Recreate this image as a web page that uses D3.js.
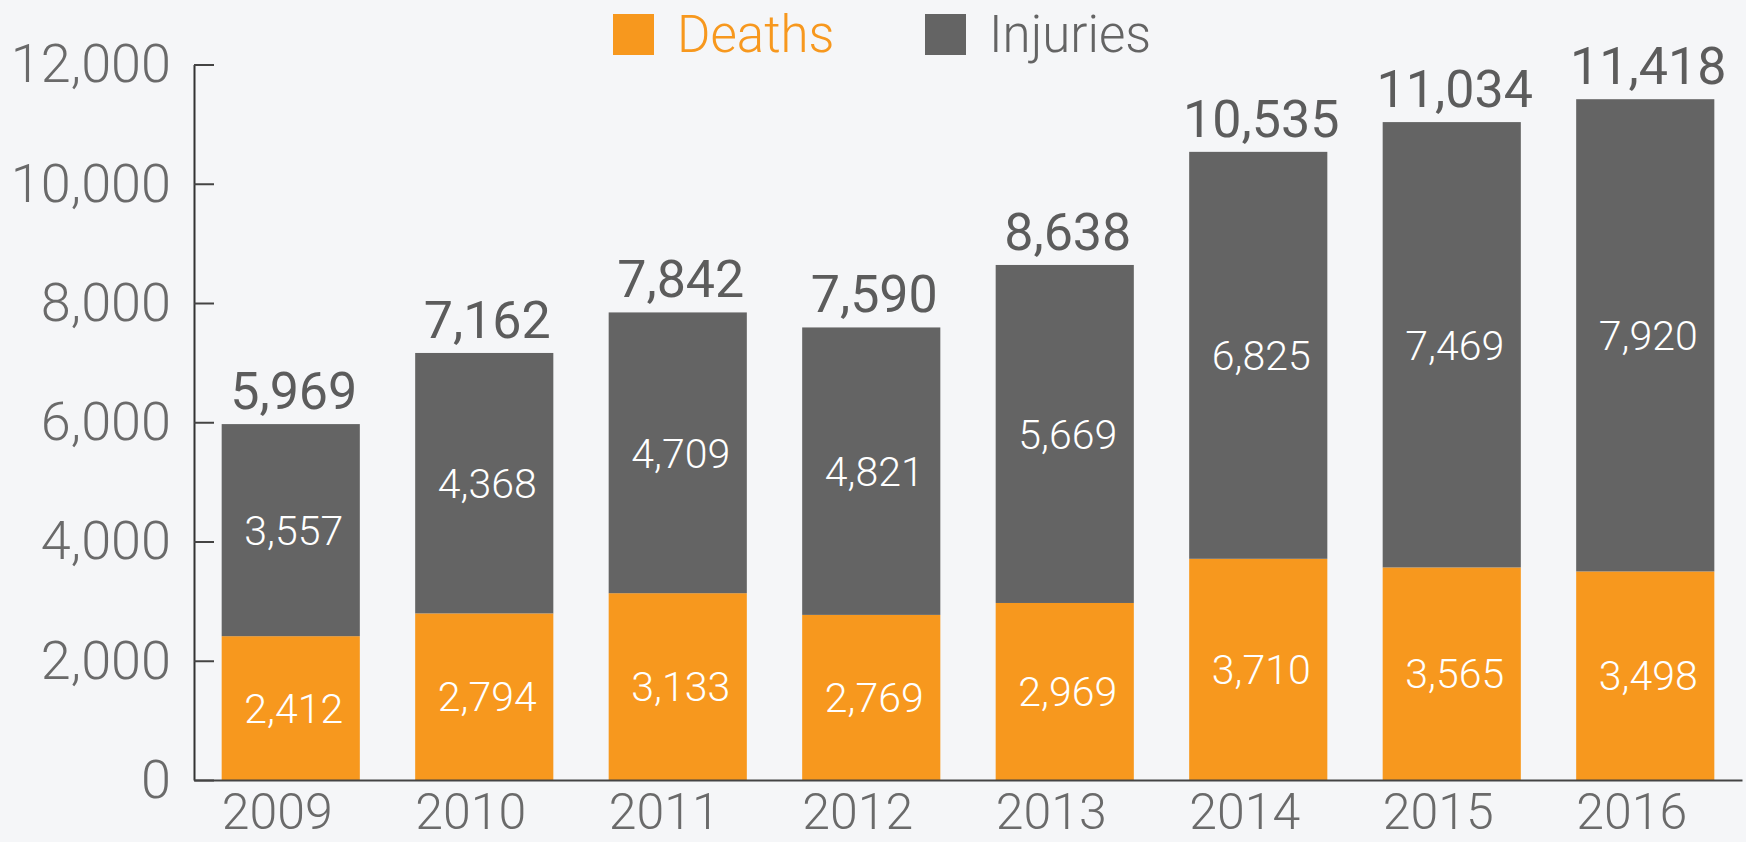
<!DOCTYPE html>
<html>
<head>
<meta charset="utf-8">
<script src="https://cdn.jsdelivr.net/npm/d3@7/dist/d3.min.js"></script>
<style>
  html, body { margin: 0; padding: 0; background: #f5f6f8; }
  svg { display: block; }
  text { font-family: Roboto, "Liberation Sans", sans-serif; }
</style>
</head>
<body>
<svg id="chart" width="1746" height="842"></svg>
<script>
const years = ["2009", "2010", "2011", "2012", "2013", "2014", "2015", "2016"];
const deaths = [2412, 2794, 3133, 2769, 2969, 3710, 3565, 3498];
const injuries = [3557, 4368, 4709, 4821, 5669, 6825, 7469, 7920];
const totals = [5969, 7162, 7842, 7590, 8638, 10535, 11034, 11418];
const yTicks = [0, 2000, 4000, 6000, 8000, 10000, 12000];
const seriesNames = ["Deaths", "Injuries"];
const colors = ["#f7981e", "#646464"];

const svg = d3.select("#chart");
const fmt = d3.format(",");

const x = d3.scaleBand().domain(years).range([194, 1742])
  .paddingInner(0.286).paddingOuter(0.143);
const y = d3.scaleLinear().domain([0, 12000]).range([780, 64.5]);

const rows = years.map((yr, i) => ({ year: yr, Deaths: deaths[i], Injuries: injuries[i], total: totals[i] }));
const stack = d3.stack().keys(seriesNames)(rows);

// bars
svg.append("g").selectAll("g").data(stack).join("g")
  .attr("fill", (d, i) => colors[i])
  .selectAll("rect").data(d => d).join("rect")
  .attr("x", d => x(d.data.year))
  .attr("width", x.bandwidth())
  .attr("y", d => y(d[1]))
  .attr("height", d => y(d[0]) - y(d[1]));

// inner labels
svg.append("g").selectAll("g").data(stack).join("g")
  .selectAll("text").data(d => d.map(v => ({ v, key: d.key }))).join("text")
  .attr("x", d => x(d.v.data.year) + x.bandwidth() / 2 + 3)
  .attr("y", d => (y(d.v[0]) + y(d.v[1])) / 2)
  .attr("dy", "0.36em")
  .attr("text-anchor", "middle")
  .attr("fill", "#ffffff")
  .attr("font-size", 41)
  .attr("font-weight", 300)
  .text(d => fmt(d.v.data[d.key]));

// total labels
svg.append("g").selectAll("text").data(rows).join("text")
  .attr("x", d => x(d.year) + x.bandwidth() / 2 + 3)
  .attr("y", d => y(d.total) - 15)
  .attr("text-anchor", "middle")
  .attr("fill", "#5c5c5c")
  .attr("font-size", 52)
  .attr("font-weight", 400)
  .text(d => fmt(d.total));

// y axis
const yAxis = svg.append("g").attr("transform", "translate(194,0)")
  .call(d3.axisLeft(y).tickValues(yTicks).tickFormat(fmt).tickSizeInner(-20).tickSizeOuter(0).tickPadding(23));
yAxis.select(".domain").attr("stroke", "#333").attr("stroke-width", 2);
yAxis.selectAll(".tick line").attr("stroke", "#444").attr("stroke-width", 2);
yAxis.selectAll(".tick text").attr("fill", "#6a6a6a").attr("font-size", 54).attr("font-weight", 300)
  .attr("font-family", "Roboto, 'Liberation Sans', sans-serif");

// x axis
const xAxis = svg.append("g").attr("transform", "translate(0,780)")
  .call(d3.axisBottom(x).tickSize(0).tickPadding(0));
xAxis.select(".domain").attr("stroke", "#444").attr("stroke-width", 2);
xAxis.selectAll(".tick text")
  .attr("x", -x.bandwidth() / 2)
  .attr("y", 49)
  .attr("dy", 0)
  .attr("text-anchor", "start")
  .attr("fill", "#6a6a6a").attr("font-size", 50).attr("font-weight", 300)
  .attr("font-family", "Roboto, 'Liberation Sans', sans-serif");

// legend
const legendX = [613, 925];
const legend = svg.append("g").selectAll("g").data(seriesNames).join("g")
  .attr("transform", (d, i) => `translate(${legendX[i]},14)`);
legend.append("rect").attr("width", 41).attr("height", 41).attr("fill", (d, i) => colors[i]);
legend.append("text").attr("x", 64).attr("y", 37.7)
  .attr("fill", (d, i) => i === 0 ? "#f7981e" : "#646464")
  .attr("font-size", 51).attr("font-weight", 300)
  .text(d => d);
</script>
</body>
</html>
